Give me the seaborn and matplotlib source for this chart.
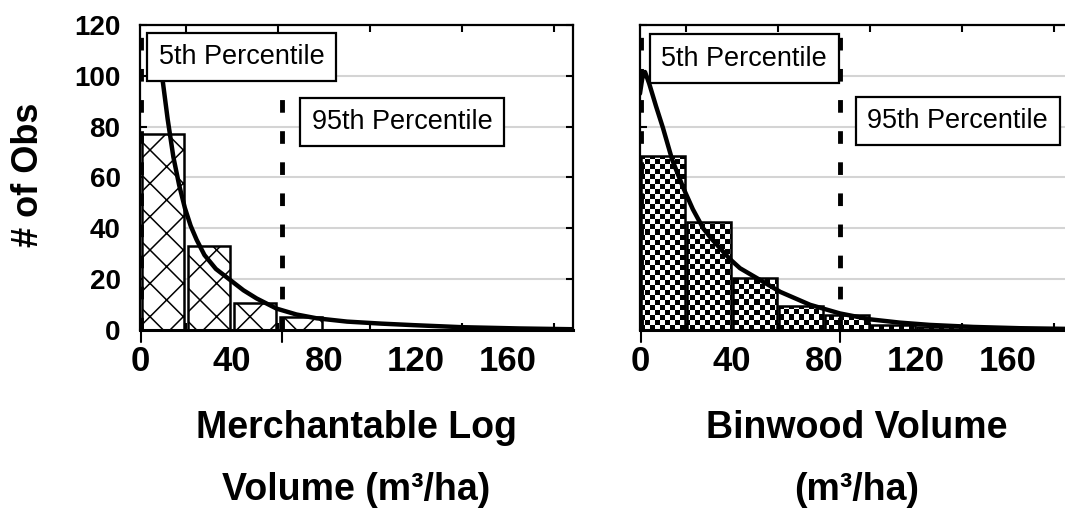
import numpy as np
import seaborn as sns
import matplotlib.pyplot as plt

# classes de 20 m3/ha
bin_edges = [0, 20, 40, 60, 80, 100, 120, 140, 160, 180]
log_counts = [77, 33, 10.5, 5, 0, 0, 0, 0, 0]
bin_counts = [68.5, 42.5, 20.5, 9.5, 6, 2, 1, 0.5, 0]

# courbes ajustées
log_fit_x = [8.5, 10, 12, 14.5, 17, 19.5, 22, 24.6, 28, 33, 39, 45, 50.7, 59.4, 68, 76.8, 90, 105, 119, 140, 165, 188]
log_fit_y = [106, 97, 83, 68, 57, 48, 41, 35.5, 29.5, 24, 19.8, 15.6, 12.4, 8.4, 6.1, 4.6, 3.3, 2.5, 1.9, 1.1, 0.6, 0.3]
bin_fit_x = [0, 1, 2.2, 4, 7, 10, 14, 18.8, 23, 27.5, 31, 34.8, 39, 43.5, 52, 61, 74, 87, 100, 113, 126, 145, 165, 188]
bin_fit_y = [93, 99, 101.5, 97, 88, 79.5, 67, 56, 47.5, 40, 36, 32.2, 28, 24.3, 19.8, 15, 9.9, 6.5, 4.2, 2.9, 2, 1.2, 0.7, 0.4]

# percentiles
log_pct = [0.6, 61.7]
bin_pct = [0.6, 87]

xtick_vals = [0, 40, 80, 120, 160]
ytick_vals = [0, 20, 40, 60, 80, 100, 120]
xmax = 188.3

sns.set_theme(style='white')
plt.rcParams['font.family'] = ['Liberation Sans', 'DejaVu Sans']
plt.rcParams['hatch.linewidth'] = 1.1
plt.rcParams['text.color'] = 'black'
plt.rcParams['axes.labelcolor'] = 'black'
plt.rcParams['xtick.color'] = 'black'
plt.rcParams['ytick.color'] = 'black'

fig = plt.figure(figsize=(10.65, 5.09), dpi=100)
ax1 = fig.add_axes([0.1315, 0.3517, 0.4066, 0.5992])
ax2 = fig.add_axes([0.6009, 0.3517, 0.4066, 0.5992])

mids = [(a + b) / 2 for a, b in zip(bin_edges[:-1], bin_edges[1:])]

# histogrammes
sns.histplot(x=mids, weights=log_counts, bins=bin_edges, ax=ax1, shrink=0.93,
             color='white', edgecolor='black', linewidth=1.8, hatch='x', alpha=1)
sns.histplot(x=mids, weights=bin_counts, bins=bin_edges, ax=ax2, shrink=0.95,
             color='white', edgecolor='black', linewidth=1.8, alpha=1)

# pas de contour pour les classes vides
for ax, counts in [(ax1, log_counts), (ax2, bin_counts)]:
    for p, c in zip(ax.patches, counts):
        if c == 0:
            p.set_visible(False)

# motif damier pour le binwood
damier = (np.indices((61, 87)).sum(axis=0) % 2).astype(float)
for p in list(ax2.patches):
    p.set_facecolor('none')
    im = ax2.imshow(damier, cmap='gray', extent=(0, xmax, 0, 120), origin='lower',
                    interpolation='nearest', aspect='auto', zorder=0.9)
    im.set_clip_path(p)

# courbes
sns.lineplot(x=log_fit_x, y=log_fit_y, ax=ax1, color='black', lw=3.2, zorder=3)
sns.lineplot(x=bin_fit_x, y=bin_fit_y, ax=ax2, color='black', lw=3.2, zorder=3)

dash = (0, (2.6, 3.8))
ax1.axvline(log_pct[0], color='black', lw=3.5, ls=dash, zorder=3)
ax1.axvline(log_pct[1], color='black', lw=3.5, ls=dash, ymax=0.77, zorder=3)
ax2.axvline(bin_pct[0], color='black', lw=3.5, ls=dash, zorder=3)
ax2.axvline(bin_pct[1], color='black', lw=3.5, ls=dash, zorder=3)

box = dict(boxstyle='square,pad=0.42', facecolor='white', edgecolor='black', linewidth=1.6)
ax1.text(0.234, 0.895, '5th Percentile', transform=ax1.transAxes, ha='center', va='center',
         fontsize=19.5, bbox=box, zorder=5)
ax1.text(0.605, 0.682, '95th Percentile', transform=ax1.transAxes, ha='center', va='center',
         fontsize=19.5, bbox=box, zorder=5)
ax2.text(0.241, 0.890, '5th Percentile', transform=ax2.transAxes, ha='center', va='center',
         fontsize=19.5, bbox=box, zorder=5)
ax2.text(0.734, 0.685, '95th Percentile', transform=ax2.transAxes, ha='center', va='center',
         fontsize=19.5, bbox=box, zorder=5)

for ax, pct in [(ax1, log_pct), (ax2, bin_pct)]:
    ax.set_xlim(0, xmax)
    ax.set_ylim(0, 120)
    ax.set_axisbelow(True)
    ax.yaxis.grid(True, color='#d4d4d4', lw=1.5)
    ax.xaxis.grid(False)
    ax.set_xticks(xtick_vals)
    ax.set_xticks(bin_edges, minor=True)
    ax.set_yticks(ytick_vals)
    ax.tick_params(axis='x', which='major', length=0, pad=11, labelsize=25)
    ax.tick_params(axis='x', which='minor', direction='in', length=5, width=1.5,
                   top=True, bottom=True, color='black')
    ax.tick_params(axis='y', direction='in', length=5, width=1.5, left=True, right=True,
                   color='black', pad=14, labelsize=20)
    for lab in ax.get_xticklabels() + ax.get_yticklabels():
        lab.set_fontweight('bold')
    for s in ax.spines.values():
        s.set_visible(True)
        s.set_color('black')
        s.set_linewidth(1.6)
    ax.spines['bottom'].set_linewidth(2.2)
    # graduations des percentiles vers le bas
    for p in pct:
        ax.plot([p, p], [0, -0.04], transform=ax.get_xaxis_transform(), clip_on=False,
                color='black', lw=1.5)

ax2.tick_params(axis='y', labelleft=False)

ax1.set_ylabel('# of Obs', fontsize=26, fontweight='bold', va='center')
ax1.yaxis.set_label_coords(-0.257, 0.508)
ax2.set_ylabel('')

ax1.set_xlabel('Merchantable Log\nVolume (m³/ha)', fontsize=27, fontweight='bold', linespacing=1.95)
ax2.set_xlabel('Binwood Volume\n(m³/ha)', fontsize=27, fontweight='bold', linespacing=1.95)
for ax in (ax1, ax2):
    ax.xaxis.set_label_coords(0.5, -0.262)
    ax.xaxis.label.set_va('top')

fig.savefig('out.png', dpi=100)
